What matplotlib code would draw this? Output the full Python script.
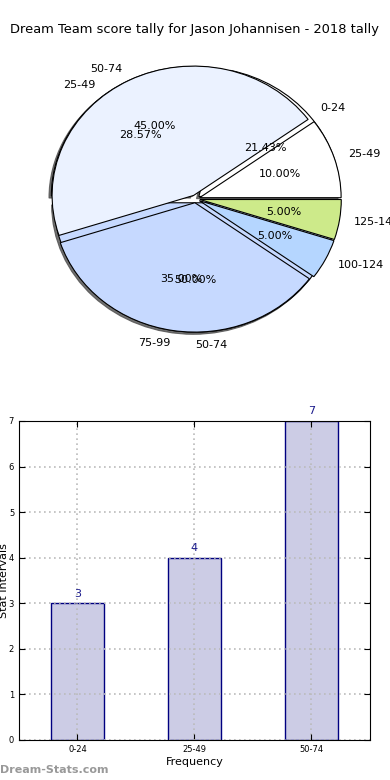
import numpy as np
import matplotlib
matplotlib.use("Agg")
import matplotlib.pyplot as plt

# data
old_labels = ["0-24", "25-49", "50-74"]
old_counts = [3, 4, 7]

pie_labels = ["25-49", "50-74", "75-99", "100-124", "125-149"]
pie_values = [10, 45, 35, 5, 5]

bar_labels = ["0-24", "25-49", "50-74"]
bar_counts = [3, 4, 7]

colors = ["#ffffff", "#ebf2ff", "#c6d9ff", "#b5d6ff", "#cdea8a"]

fig = plt.figure(figsize=(3.9, 7.8), dpi=100)
fig.patch.set_facecolor("white")

fig.text(0.5, 1 - 30 / 780.0, "Dream Team score tally for Jason Johannisen - 2018 tally",
         ha="center", va="center", fontsize=9.4)

######## pie ########
ax1 = fig.add_axes([0.0659, 0.546, 0.871, 0.398])
wedge_kw = {"edgecolor": "black", "linewidth": 0.8}
shadow_kw = {"ox": -0.012, "oy": -0.012, "facecolor": "0.3", "edgecolor": "0.3",
             "alpha": 0.8}
ax1.pie(old_counts, labels=old_labels, colors=colors[:3], autopct="%.2f%%",
        explode=[0.03] * len(old_counts), shadow=shadow_kw, startangle=0,
        wedgeprops=wedge_kw, textprops={"fontsize": 8})
ax1.pie(pie_values, labels=pie_labels, colors=colors, autopct="%.2f%%",
        explode=[0.03] * len(pie_values), shadow=False, startangle=0,
        wedgeprops=wedge_kw, textprops={"fontsize": 8})
ax1.set_aspect("auto")
ax1.set_xlim(-1.2, 1.2)
ax1.set_ylim(-1.2, 1.2)
ax1.axis("off")

######## bars ########
ax2 = fig.add_axes([0.0487, 0.0513, 0.9, 0.409])
x = np.arange(len(bar_counts))
ax2.bar(x, bar_counts, width=0.45, color="#ccccE5", edgecolor="#000080",
        linewidth=1.0, zorder=1)
for xi, v in zip(x, bar_counts):
    ax2.text(xi, v + 0.1, str(v), ha="center", va="bottom", fontsize=8,
             color="#1a1a8c")
ax2.set_xlim(-0.5, 2.5)
ax2.set_ylim(0, 7)
ax2.set_xticks(x)
ax2.set_xticklabels(bar_labels)
ax2.set_yticks(range(0, 8))
ax2.tick_params(direction="in", top=True, right=True, labelsize=6, length=4)
ax2.grid(True, linestyle=(0, (1, 2)), color="#bbbbbb", linewidth=1.2, zorder=3)
ax2.set_axisbelow(False)
for sp in ax2.spines.values():
    sp.set_zorder(5)
ax2.set_xlabel("Frequency", fontsize=8, labelpad=2)
ax2.set_ylabel("Stat Intervals", fontsize=8)
ax2.yaxis.set_label_coords(-0.028, 0.5)

fig.text(0.0, 1 - 770 / 780.0, "Dream-Stats.com", ha="left", va="center",
         fontsize=8, color="#999999", fontweight="bold")

fig.savefig("out.png", dpi=100)
